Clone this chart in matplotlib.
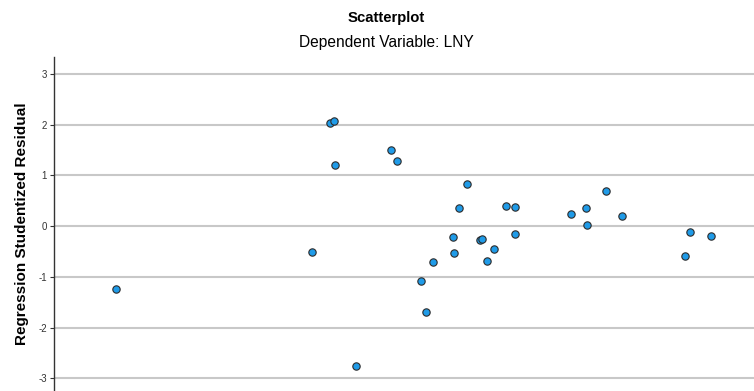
import matplotlib.pyplot as plt
import numpy as np

plt.rcParams['font.family'] = ['Liberation Sans', 'DejaVu Sans']

# Regression standardized predicted value (x axis lies below the visible area)
pred = [-2.76, -1.36, -1.23, -1.20, -1.19, -1.04, -0.79, -0.75, -0.58, -0.54,
        -0.49, -0.35, -0.34, -0.31, -0.25, -0.16, -0.14, -0.11, -0.06, 0.03,
        0.09, 0.09, 0.49, 0.60, 0.61, 0.74, 0.86, 1.31, 1.34, 1.49]
# Regression studentized residual
resid = [-1.24, -0.51, 2.03, 2.07, 1.20, -2.76, 1.50, 1.28, -1.08, -1.69,
         -0.71, -0.22, -0.53, 0.35, 0.83, -0.28, -0.26, -0.69, -0.45, 0.39,
         0.37, -0.16, 0.24, 0.35, 0.02, 0.69, 0.20, -0.59, -0.12, -0.20]
yticks = [-3, -2, -1, 0, 1, 2, 3]

fig = plt.figure(figsize=(7.54, 3.91), dpi=100)
W, H = 754, 391
ax = fig.add_axes([54 / W, 0, 1 - 54 / W, (391 - 57) / H])

for t in yticks:
    ax.axhline(t, color='#c8c8c8', lw=1.5, zorder=1)

ax.scatter(pred, resid, s=28, c='#1f9be8', edgecolors='#2b2b2b',
           linewidths=0.8, zorder=3)

ax.set_xlim(-3.2, 1.8)
ax.set_ylim(-3.25, 3.33)
ax.set_yticks(yticks)
ax.set_yticklabels([str(t) for t in yticks], fontsize=7, color='#333333')
ax.tick_params(axis='y', length=3, width=0.8, color='#333333', pad=2)
ax.set_xticks([])
for side in ['top', 'right', 'bottom']:
    ax.spines[side].set_visible(False)
ax.spines['left'].set_color('#333333')
ax.spines['left'].set_linewidth(1.0)

ax.set_ylabel('Regression Studentized Residual', fontsize=11,
              fontweight='bold', labelpad=7)

fig.text(386 / W, 1 - 18 / H, 'Scatterplot', ha='center', va='center',
         fontsize=10.7, fontweight='bold')
fig.text(386 / W, 1 - 43 / H, 'Dependent Variable: LNY', ha='center',
         va='center', fontsize=11.2)

fig.savefig('out.png', dpi=100)
